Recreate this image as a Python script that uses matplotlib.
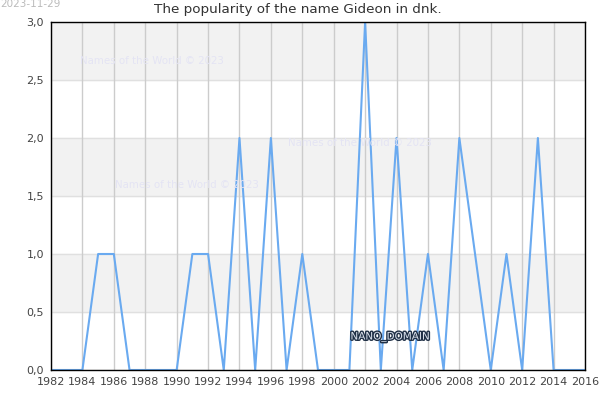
import matplotlib
matplotlib.use("Agg")
import matplotlib.pyplot as plt
import matplotlib.patheffects as pe
from matplotlib.ticker import FuncFormatter

years = list(range(1982, 2017))
counts = [0, 0, 0, 1, 1, 0, 0, 0, 0, 1, 1, 0, 2, 0, 2, 0, 1, 0, 0, 0,
          3, 0, 2, 0, 1, 0, 2, 1, 0, 1, 0, 2, 0, 0, 0]
xticks = list(range(1982, 2017, 2))
yticks = [0, 0.5, 1.0, 1.5, 2.0, 2.5, 3.0]

fig = plt.figure(figsize=(6, 4), dpi=100)
ax = fig.add_axes([0.085, 0.075, 0.89, 0.87])

# alternating bands
for lo in [0.5, 1.5, 2.5]:
    ax.axhspan(lo, lo + 0.5, color='#f2f2f2', zorder=0)
for y in yticks:
    ax.axhline(y, color='#e0e0e0', lw=1, zorder=0.5)
for x in xticks:
    ax.axvline(x, color='#cccccc', lw=1, zorder=0.6)

ax.plot(years, counts, color='#6aaaf0', lw=1.5, zorder=2)

ax.set_xlim(1982, 2016)
ax.set_ylim(0, 3.0)
ax.set_xticks(xticks)
ax.set_yticks(yticks)
ax.yaxis.set_major_formatter(FuncFormatter(lambda v, p: ('%.1f' % v).replace('.', ',')))
ax.tick_params(length=0, labelsize=8, colors='#444444', pad=5)
for s in ax.spines.values():
    s.set_color('black')
    s.set_linewidth(1)

fig.text(0.497, 0.975, 'The popularity of the name Gideon in dnk.', ha='center', va='center',
         fontsize=9.7, color='#333333')
fig.text(0.0, 0.99, '2023-11-29', ha='left', va='center', fontsize=7.5, color='#bbbbbb')

wm = dict(fontsize=7.4, color='#e4e4f4', zorder=1, ha='left', va='center')
fig.text(80 / 600, 1 - 61 / 400, 'Names of the World © 2023', **wm)
fig.text(288 / 600, 1 - 143 / 400, 'Names of the World © 2023', **wm)
fig.text(115 / 600, 1 - 185 / 400, 'Names of the World © 2023', **wm)

fig.text(390 / 600, 1 - 337 / 400, 'NANO_DOMAIN', ha='center', va='center', fontsize=7.5,
         color='#dde3ee', zorder=5,
         path_effects=[pe.withStroke(linewidth=2, foreground='#1f2f45')])

fig.savefig('out.png', dpi=100)
